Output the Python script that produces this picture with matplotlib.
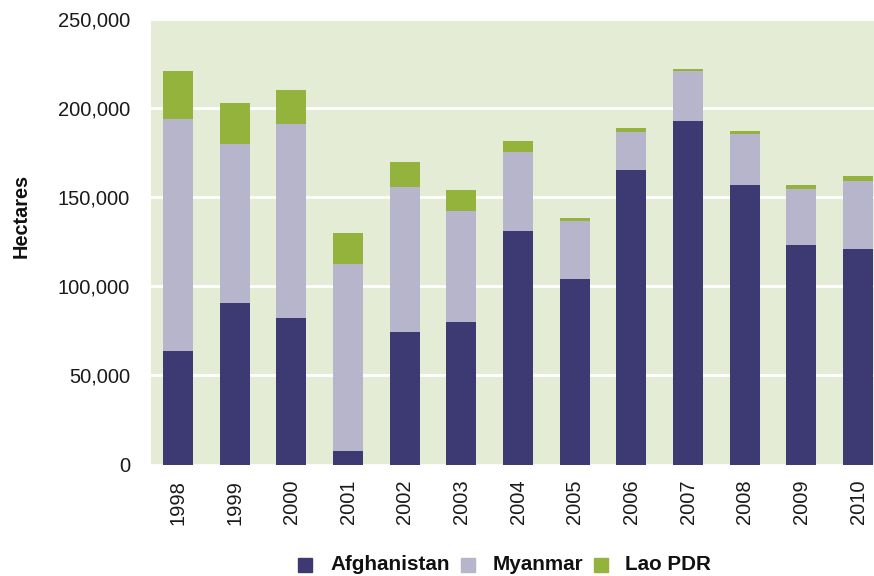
import matplotlib
matplotlib.use("Agg")
import matplotlib.pyplot as plt
from matplotlib.patches import Rectangle
from matplotlib.ticker import FuncFormatter
import numpy as np

years = ["1998", "1999", "2000", "2001", "2002", "2003", "2004",
         "2005", "2006", "2007", "2008", "2009", "2010"]
afghanistan = [63674, 90583, 82171, 7606, 74100, 80000, 131000,
               104000, 165000, 193000, 157000, 123000, 121000]
myanmar = [130300, 89500, 108700, 105000, 81400, 62200, 44200,
           32800, 21500, 27700, 28500, 31700, 38100]
lao = [26800, 22500, 19100, 17300, 14000, 12000, 6600,
       1800, 2500, 1500, 1600, 1900, 3000]
series_names = ["Afghanistan", "Myanmar", "Lao PDR"]
colors = ["#3D3A73", "#B7B5CB", "#93B33D"]

plt.rcParams['font.family'] = ['Liberation Sans', 'DejaVu Sans']

W, H = 874, 576
fig = plt.figure(figsize=(W / 100, H / 100), dpi=100)
left, right, top, bottom = 151, 874, 19, 464.5
ax = fig.add_axes([left / W, (H - bottom) / H, (right - left) / W, (bottom - top) / H])
ax.set_facecolor("#E5ECD6")

x = np.arange(len(years))
a = np.array(afghanistan)
m = np.array(myanmar)
l = np.array(lao)
bw = 0.53
ax.bar(x, a, bw, color=colors[0], zorder=3)
ax.bar(x, m, bw, bottom=a, color=colors[1], zorder=3)
ax.bar(x, l, bw, bottom=a + m, color=colors[2], zorder=3)

ax.set_xlim(-0.476, 12.28)
ax.set_ylim(0, 250000)
ax.set_yticks(np.arange(0, 250001, 50000))
ax.yaxis.set_major_formatter(FuncFormatter(lambda v, p: f"{int(v):,}"))
ax.grid(axis='y', color='white', linewidth=2, zorder=1)
ax.set_axisbelow(True)
ax.set_xticks(x)
ax.set_xticklabels(years, rotation=90, va='top', ha='center')
ax.tick_params(axis='both', length=0, labelsize=14.5, colors='#1a1a1a')
ax.tick_params(axis='y', pad=15)
ax.tick_params(axis='x', pad=11)
for s in ax.spines.values():
    s.set_visible(False)

fig.text(21.5 / W, 1 - 216 / H, "Hectares", rotation=90, ha='center', va='center',
         fontsize=14.3, fontweight='bold', color='#111111')

# legend
leg_y = 565
sq = 14
items = [(298, 330), (461, 493), (594, 625)]
for (sx, tx), name, c in zip(items, series_names, colors):
    fig.patches.append(Rectangle((sx / W, 1 - (leg_y + sq / 2) / H), sq / W, sq / H,
                                 transform=fig.transFigure, color=c, figure=fig))
    fig.text(tx / W, 1 - leg_y / H, name, ha='left', va='center',
             fontsize=14.9, fontweight='bold', color='#111111')

fig.savefig("out.png", dpi=100, facecolor='white')
